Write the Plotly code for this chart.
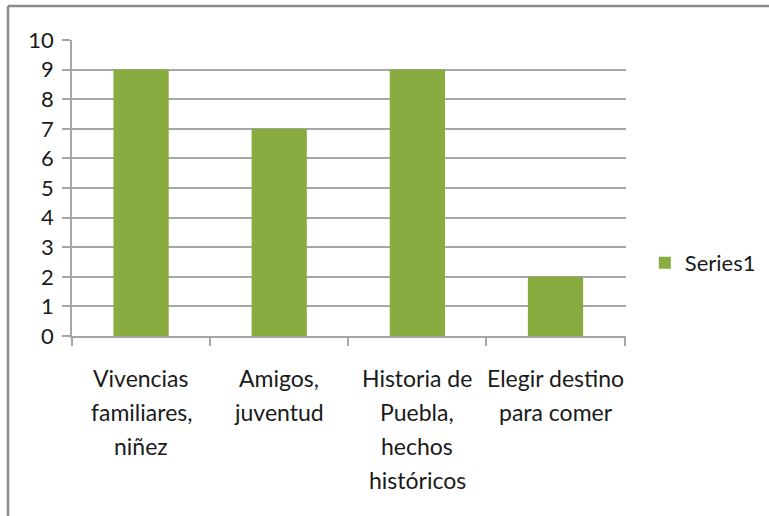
import plotly.graph_objects as go

label_lines = [
    ["Vivencias", "familiares,", "niñez"],
    ["Amigos,", "juventud"],
    ["Historia de", "Puebla,", "hechos", "históricos"],
    ["Elegir destino", "para comer"],
]
categories = [" ".join(l) for l in label_lines]
values = [9, 7, 9, 2]
series_name = "Series1"
y_ticks = list(range(0, 11))

FONT = "Lato, Open Sans, sans-serif"
GRID = "#a6a6a6"
TXT = "#1a1a1a"

fig = go.Figure()
fig.add_trace(go.Bar(
    x=categories, y=values, name=series_name,
    marker=dict(color="#89ac40", line=dict(width=0)),
))

annotations = []
for cat, lines in zip(categories, label_lines):
    for i, line in enumerate(lines):
        annotations.append(dict(
            x=cat, y=0, xref="x", yref="y", text=line, showarrow=False,
            yanchor="top", xanchor="center", yshift=-26 - 34 * i,
            font=dict(family=FONT, size=23, color=TXT),
        ))

fig.update_layout(
    width=769, height=516,
    margin=dict(l=72, r=143, t=40, b=180, autoexpand=False),
    paper_bgcolor="white", plot_bgcolor="white",
    font=dict(family=FONT, size=22, color=TXT),
    bargap=0.6,
    showlegend=True,
    legend=dict(x=1.034, xanchor="left", y=0.247, yanchor="middle",
                font=dict(family=FONT, size=22, color=TXT),
                itemwidth=30, bgcolor="rgba(0,0,0,0)"),
    xaxis=dict(type="category", showticklabels=False, ticks="outside",
               tickson="boundaries", ticklen=8, tickcolor=GRID, tickwidth=1.5,
               showline=True, linecolor=GRID, linewidth=1.5, showgrid=False,
               zeroline=False),
    yaxis=dict(range=[0, 10], tickvals=y_ticks, ticks="outside", ticklen=8,
               tickcolor=GRID, tickwidth=1.5, showline=True, linecolor=GRID,
               linewidth=1.5, showgrid=True, gridcolor=GRID, gridwidth=1.5,
               zeroline=False, ticklabelstandoff=4,
               tickfont=dict(family=FONT, size=22, color=TXT)),
    annotations=annotations,
    shapes=[
        dict(type="line", xref="paper", yref="paper", x0=-0.1155, x1=1.26,
             y0=1.1149, y1=1.1149, line=dict(color="#8c8c8c", width=2.5)),
        dict(type="line", xref="paper", yref="paper", x0=-0.1155, x1=-0.1155,
             y0=1.1149, y1=-0.62, line=dict(color="#8c8c8c", width=2.5)),
    ],
)

fig.write_html("out.html", config={"displayModeBar": False},
               post_script="document.body.style.margin='0';")
